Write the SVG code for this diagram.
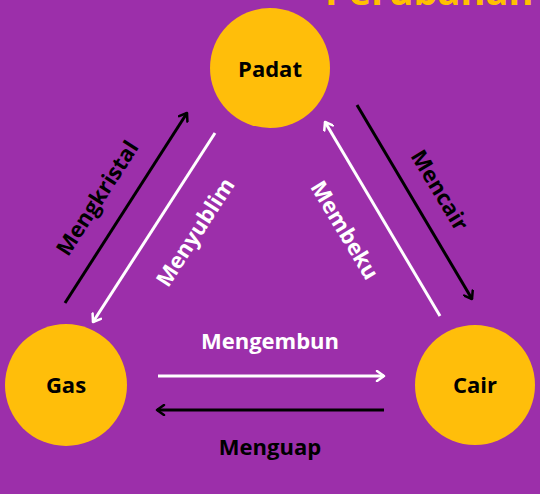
<svg xmlns="http://www.w3.org/2000/svg" width="540" height="494" viewBox="0 0 540 494">
<style>
.node{fill:#FFBE0A}
.nt{font-family:"Open Sans","Liberation Sans",sans-serif;font-weight:bold;font-size:22px;fill:#000;text-anchor:middle}
.lbl{font-family:"Open Sans","Liberation Sans",sans-serif;font-weight:bold;font-size:22px;text-anchor:middle}
.w{stroke:#fff;fill:none;stroke-width:3}
.b{stroke:#000;fill:none;stroke-width:3}
</style>
<defs>
<marker id="aw" viewBox="0 0 12 12" refX="10" refY="6" markerWidth="12" markerHeight="12" markerUnits="userSpaceOnUse" orient="auto">
<path d="M3,1 L10,6 L3,11" fill="none" stroke="#fff" stroke-width="2.5" stroke-linecap="round" stroke-linejoin="round"/>
</marker>
<marker id="ab" viewBox="0 0 12 12" refX="10" refY="6" markerWidth="12" markerHeight="12" markerUnits="userSpaceOnUse" orient="auto">
<path d="M3,1 L10,6 L3,11" fill="none" stroke="#000" stroke-width="2.5" stroke-linecap="round" stroke-linejoin="round"/>
</marker>
</defs>
<rect width="540" height="494" fill="#9C2FAA"/>
<text x="325" y="5" font-family="'Open Sans','Liberation Sans',sans-serif" font-weight="bold" font-size="38" fill="#FFC000">Perubahan Wujud</text>
<g id="padat"><circle class="node" cx="270" cy="68" r="60"/><text class="nt" x="270" y="77">Padat</text></g>
<g id="gas"><circle class="node" cx="66" cy="385" r="61"/><text class="nt" x="66" y="393">Gas</text></g>
<g id="cair"><circle class="node" cx="475" cy="385" r="60"/><text class="nt" x="475" y="393">Cair</text></g>
<g id="connectors">
<line class="b" x1="65" y1="303" x2="187" y2="113" marker-end="url(#ab)"/>
<line class="w" x1="215" y1="133" x2="93" y2="322" marker-end="url(#aw)"/>
<line class="w" x1="440" y1="316" x2="325" y2="122" marker-end="url(#aw)"/>
<line class="b" x1="357" y1="105" x2="472" y2="299" marker-end="url(#ab)"/>
<line class="w" x1="158" y1="376" x2="384" y2="376" marker-end="url(#aw)"/>
<line class="b" x1="384" y1="410" x2="157" y2="410" marker-end="url(#ab)"/>
<text class="lbl" fill="#000" transform="translate(97,198) rotate(-57)" y="8">Mengkristal</text>
<text class="lbl" fill="#fff" transform="translate(195,232) rotate(-57)" y="8">Menyublim</text>
<text class="lbl" fill="#fff" transform="translate(345,230) rotate(59)" y="8">Membeku</text>
<text class="lbl" fill="#000" transform="translate(440,190) rotate(59)" y="8">Mencair</text>
<text class="lbl" fill="#fff" x="270" y="349">Mengembun</text>
<text class="lbl" fill="#000" x="270" y="455">Menguap</text>
</g>
</svg>
